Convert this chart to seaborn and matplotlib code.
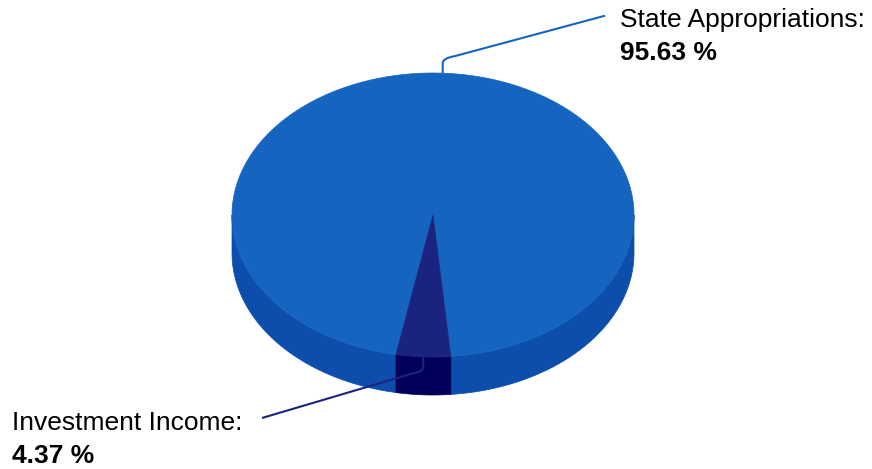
import numpy as np
import matplotlib
matplotlib.use('Agg')
import matplotlib.pyplot as plt
from matplotlib.patches import Polygon, PathPatch
from matplotlib.path import Path
import seaborn as sns

# data
categories = ['State Appropriations', 'Investment Income']
shares = [95.63, 4.37]
top_colors = ['#1565C0', '#1A237E']
side_colors = ['#0D4EAD', '#00005A']

sns.set_style('white')
plt.rcParams['font.family'] = ['Liberation Sans', 'DejaVu Sans']

fig = plt.figure(figsize=(8.72, 4.69), dpi=100)
ax = fig.add_axes([0, 0, 1, 1])
ax.set_xlim(0, 872)
ax.set_ylim(469, 0)
ax.axis('off')

# pie geometry (screen pixels)
cx, cy, rx, ry, depth = 433, 215, 201, 142, 38
start = 275.1


def pts(theta, dz=0):
    t = np.radians(theta)
    return np.column_stack([cx + rx * np.cos(t), cy - ry * np.sin(t) + dz])


fracs = np.array(shares) / sum(shares)
bounds = start + 360 * np.concatenate([[0], np.cumsum(fracs)])

for i in range(len(shares)):
    a1, a2 = bounds[i], bounds[i + 1]
    # side wall: only the front half is visible
    for f1, f2 in [(180, 360), (540, 720)]:
        lo, hi = max(a1, f1), min(a2, f2)
        if hi > lo:
            t = np.linspace(lo, hi, 200)
            poly = np.vstack([pts(t), pts(t[::-1], depth)])
            ax.add_patch(Polygon(poly, closed=True, fc=side_colors[i],
                                 ec=side_colors[i], lw=0.5, zorder=1))
    t = np.linspace(a1, a2, 400)
    poly = np.vstack([[cx, cy], pts(t)])
    ax.add_patch(Polygon(poly, closed=True, fc=top_colors[i],
                         ec=top_colors[i], lw=0.5, zorder=2))

# labels with leader lines
label_pos = [(620, 27, 605, 15.7), (12, 430, 262, 418)]
for i, name in enumerate(categories):
    mid = (bounds[i] + bounds[i + 1]) / 2
    ax_, ay_ = pts(np.array([mid]))[0]
    tx, ty, ex, ey = label_pos[i]
    d = -1 if ay_ < cy else 1
    verts = [(ax_, ay_), (ax_, ay_ + d * 10), (ax_, ay_ + d * 15),
             (ax_ + (12 if ex > ax_ else -12), ay_ + d * 17), (ex, ey)]
    codes = [Path.MOVETO, Path.LINETO, Path.CURVE3, Path.CURVE3, Path.LINETO]
    ax.add_patch(PathPatch(Path(verts, codes), fc='none', ec=top_colors[i],
                           lw=1.5, zorder=3))
    ax.text(tx, ty, name + ':', fontsize=19, color='black', va='baseline')
    ax.text(tx, ty + 33, f'{shares[i]:.2f} %', fontsize=19, fontweight='bold',
            color='black', va='baseline')

fig.savefig('out.png', dpi=100)
